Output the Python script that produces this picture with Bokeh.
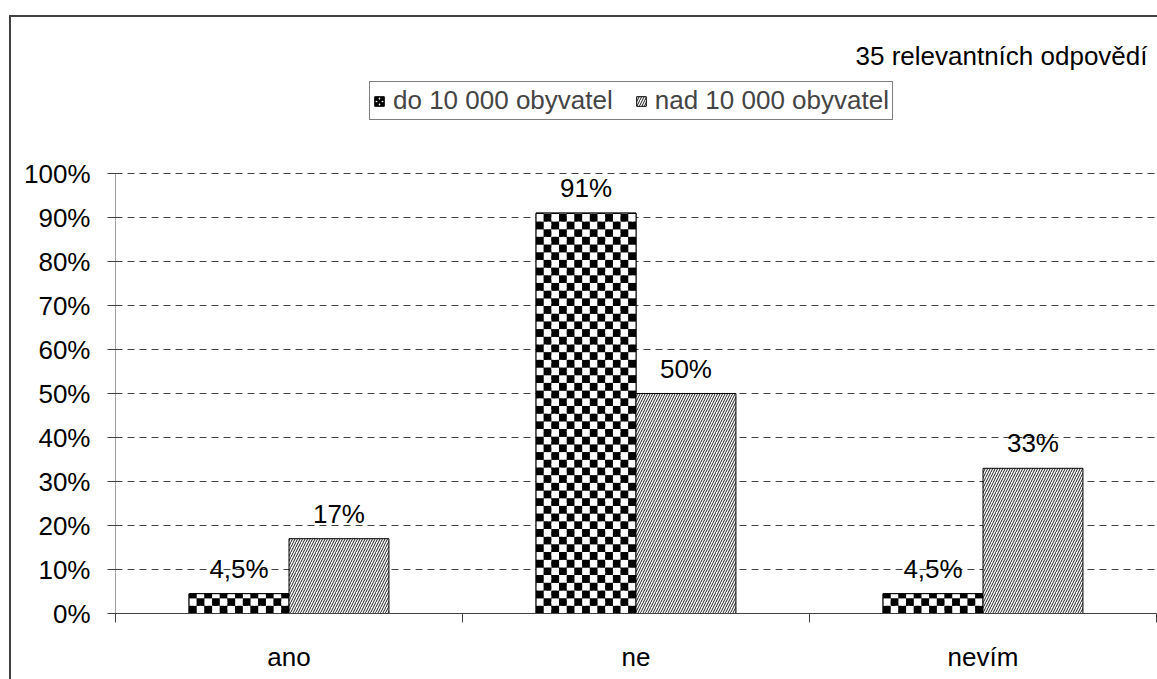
import math
from bokeh.plotting import figure
from bokeh.layouts import column
from bokeh.models import (ColumnDataSource, Range1d, FixedTicker, NumeralTickFormatter,
                          Legend, LegendItem, Label)
from bokeh.core.properties import value
from bokeh.embed import file_html
from bokeh.resources import INLINE

categories = ["ano", "ne", "nevím"]
series_names = ["do 10 000 obyvatel", "nad 10 000 obyvatel"]
small_towns = [0.045, 0.91, 0.045]
large_towns = [0.17, 0.50, 0.33]
y_ticks = [0.0, 0.1, 0.2, 0.3, 0.4, 0.5, 0.6, 0.7, 0.8, 0.9, 1.0]
subtitle = "35 relevantních odpovědí"

FONT = "Liberation Sans"
FS = "26px"

def pct(v):
    s = f"{v * 100:.1f}".rstrip("0").rstrip(".")
    return s.replace(".", ",") + "%"

# layout (pixels)
W, H = 1146, 662
PLOT_H = 440            # pixels from 0% to 100%
TOP_EXTRA = 156         # pixels above the 100% line inside the frame
BOTTOM = 66
Y_MAX = 1 + TOP_EXTRA / PLOT_H
CAT_PX = 347

bar_w = 0.288
xs = [i + 0.5 for i in range(len(categories))]

src1 = ColumnDataSource(dict(x=[x - bar_w / 2 for x in xs], top=small_towns,
                             lab=[pct(v) for v in small_towns]))
src2 = ColumnDataSource(dict(x=[x + bar_w / 2 for x in xs], top=large_towns,
                             lab=[pct(v) for v in large_towns]))

# checkerboard cells derived from the bars of series 1
ncols = 13
cw = bar_w / ncols
ch = (CAT_PX * cw) / PLOT_H
cl, cr, cb, ct, cc = [], [], [], [], []
for x, v in zip(src1.data["x"], small_towns):
    left0 = x - bar_w / 2
    nrows = math.ceil(v / ch - 1e-9)
    for r in range(nrows):
        for c in range(ncols):
            cl.append(left0 + c * cw)
            cr.append(left0 + (c + 1) * cw)
            cb.append(r * ch)
            ct.append(min((r + 1) * ch, v))
            cc.append("black" if (r + c) % 2 == 0 else "white")

p = figure(width=W, height=H, output_backend="svg", toolbar_location=None,
           x_range=Range1d(0, len(categories)), y_range=Range1d(0, Y_MAX),
           min_border_left=104, min_border_right=1, min_border_top=0,
           min_border_bottom=BOTTOM)
p.outline_line_color = None
p.background_fill_color = "white"
p.border_fill_color = "white"

p.ygrid.ticker = FixedTicker(ticks=y_ticks[1:])
p.ygrid.grid_line_color = "#404040"
p.ygrid.grid_line_dash = "7 5"
p.ygrid.grid_line_width = 1
p.xgrid.grid_line_color = None

r1 = p.vbar(x="x", top="top", width=bar_w, source=src1, fill_color="white",
            line_color="black", line_width=1, hatch_pattern="diagonal_cross",
            hatch_color="black", hatch_scale=6, hatch_weight=3)
p.quad(left=cl, right=cr, bottom=cb, top=ct, fill_color=cc, line_color=None)
p.vbar(x="x", top="top", width=bar_w, source=src1, fill_color=None,
       line_color="black", line_width=1)
r2 = p.vbar(x="x", top="top", width=bar_w, source=src2, fill_color="white",
            line_color="black", line_width=1, hatch_pattern="right_diagonal_line",
            hatch_color="#202020", hatch_scale=5, hatch_weight=1)

for s in (src1, src2):
    p.text(x="x", y="top", text="lab", source=s, text_align="center", text_baseline="bottom",
           y_offset=-10, text_font=value(FONT), text_font_size=FS, text_color="black")

p.segment(x0=[0], y0=[0], x1=[0], y1=[1], line_color="#404040", line_width=1)

legend = Legend(items=[LegendItem(label=series_names[0], renderers=[r1]),
                       LegendItem(label=series_names[1], renderers=[r2])],
                orientation="horizontal", location=(254, 493))
legend.label_text_font = FONT
legend.label_text_font_size = FS
legend.label_height = 24
legend.glyph_width = 12
legend.glyph_height = 12
legend.label_standoff = 8
legend.spacing = 22
legend.padding = 3
legend.margin = 0
legend.border_line_color = "black"
legend.border_line_width = 1
legend.background_fill_alpha = 1
p.add_layout(legend, "center")

p.add_layout(Label(x=len(categories), y=1 + (173 - 55) / PLOT_H, x_offset=-9, text=subtitle,
                   text_align="right", text_baseline="middle", text_font=FONT,
                   text_font_size=FS, text_color="black"))

p.yaxis.ticker = FixedTicker(ticks=y_ticks)
p.yaxis.formatter = NumeralTickFormatter(format="0%")
p.yaxis.major_label_text_font = FONT
p.yaxis.major_label_text_font_size = FS
p.yaxis.major_label_text_color = "black"
p.yaxis.axis_line_color = None
p.yaxis.major_tick_line_color = "#404040"
p.yaxis.major_tick_in = 5
p.yaxis.major_tick_out = 8
p.yaxis.minor_tick_line_color = None
p.yaxis.major_label_standoff = 17

p.xaxis.ticker = FixedTicker(ticks=xs, minor_ticks=list(range(len(categories) + 1)))
p.xaxis.major_label_overrides = {x: c for x, c in zip(xs, categories)}
p.xaxis.major_label_text_font = FONT
p.xaxis.major_label_text_font_size = FS
p.xaxis.major_label_text_color = "black"
p.xaxis.axis_line_color = "#404040"
p.xaxis.major_tick_line_color = None
p.xaxis.major_tick_out = 0
p.xaxis.major_tick_in = 0
p.xaxis.minor_tick_line_color = "#404040"
p.xaxis.minor_tick_in = 0
p.xaxis.minor_tick_out = 9
p.xaxis.major_label_standoff = 19

root = column(p, margin=(15, 0, 0, 9),
              styles={"border-left": "2px solid #404040", "border-top": "2px solid #404040"})

html = file_html(root, INLINE)
html = html.replace("<head>", "<head><style>html,body{margin:0;overflow:hidden}</style>", 1)
open("out.html", "w").write(html)
